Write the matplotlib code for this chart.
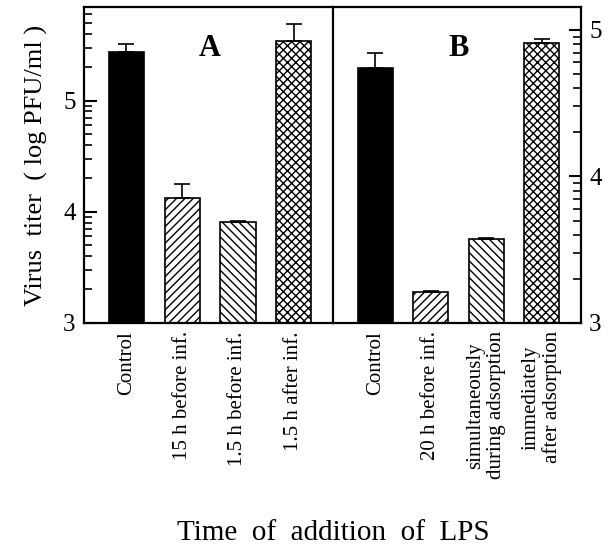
import numpy as np
import matplotlib
matplotlib.use("Agg")
import matplotlib.pyplot as plt

plt.rcParams['font.family'] = ['Liberation Serif', 'DejaVu Serif']
plt.rcParams['hatch.linewidth'] = 1.0

# panel A
labels_a = ['Control', '15 h before inf.', '1.5 h before inf.', '1.5 h after inf.']
titer_a = [5.44, 4.12, 3.91, 5.54]
err_a = [0.07, 0.13, 0.01, 0.15]

# panel B
labels_b = ['Control', '20 h before inf.', 'simultaneously\nduring adsorption',
            'immediately\nafter adsorption']
titer_b = [4.74, 3.21, 3.57, 4.91]
err_b = [0.10, 0.01, 0.01, 0.03]

colors = ['black', 'white', 'white', 'white']
hatches = [None, '////', '\\\\\\\\', 'xxxx']


def log_minor(lo, hi):
    ticks = []
    for n in range(int(np.floor(lo)), int(np.ceil(hi)) + 1):
        for k in range(2, 10):
            v = n + np.log10(k)
            if lo < v < hi:
                ticks.append(v)
    return ticks


def draw_panel(ax, labels, vals, errs, ylim, letter, side):
    x = np.arange(len(vals))
    for i in range(len(vals)):
        ax.bar(x[i], vals[i] - ylim[0], bottom=ylim[0], width=0.63,
               color=colors[i], edgecolor='black', hatch=hatches[i], linewidth=1.2)
        ax.errorbar(x[i], vals[i], yerr=[[0], [errs[i]]], color='black',
                    capsize=6, elinewidth=1.2, capthick=1.2)
    ax.set_xlim(-0.76, 3.7)
    ax.set_ylim(*ylim)
    ax.set_xticks(x)
    ax.set_xticklabels(labels, rotation=90, fontsize=15, va='top', ha='center',
                       multialignment='center', linespacing=1.15)
    ax.tick_params(axis='x', length=0, pad=6)
    ax.set_yticks([3, 4, 5])
    ax.set_yticks(log_minor(*ylim), minor=True)
    ax.tick_params(axis='y', which='major', direction='in', length=9, width=1.5,
                   labelsize=18, pad=6)
    ax.tick_params(axis='y', which='minor', direction='in', length=6, width=1.2)
    if side == 'right':
        ax.yaxis.tick_right()
        ax.yaxis.set_ticks_position('right')
    for s in ax.spines.values():
        s.set_linewidth(1.6)
    ax.text(1.5, ylim[1] - 0.085 * (ylim[1] - ylim[0]), letter, fontsize=22,
            fontweight='bold', ha='center', va='top')


fig = plt.figure(figsize=(6.12, 5.52), dpi=100)
ax2 = fig.add_axes([0.544, 0.415, 0.405, 0.572])
ax1 = fig.add_axes([0.137, 0.415, 0.407, 0.572])

draw_panel(ax1, labels_a, titer_a, err_a, (3, 5.84), 'A', 'left')
draw_panel(ax2, labels_b, titer_b, err_b, (3, 5.155), 'B', 'right')
ax2.spines['left'].set_visible(False)
ax1.patch.set_visible(False)
ax2.patch.set_visible(False)

ax1.set_ylabel('Virus  titer  ( log PFU/ml )', fontsize=19, labelpad=11)
fig.text(0.545, 0.035, 'Time  of  addition  of  LPS', fontsize=21,
         ha='center', va='center')

fig.savefig('out.png', dpi=100)
